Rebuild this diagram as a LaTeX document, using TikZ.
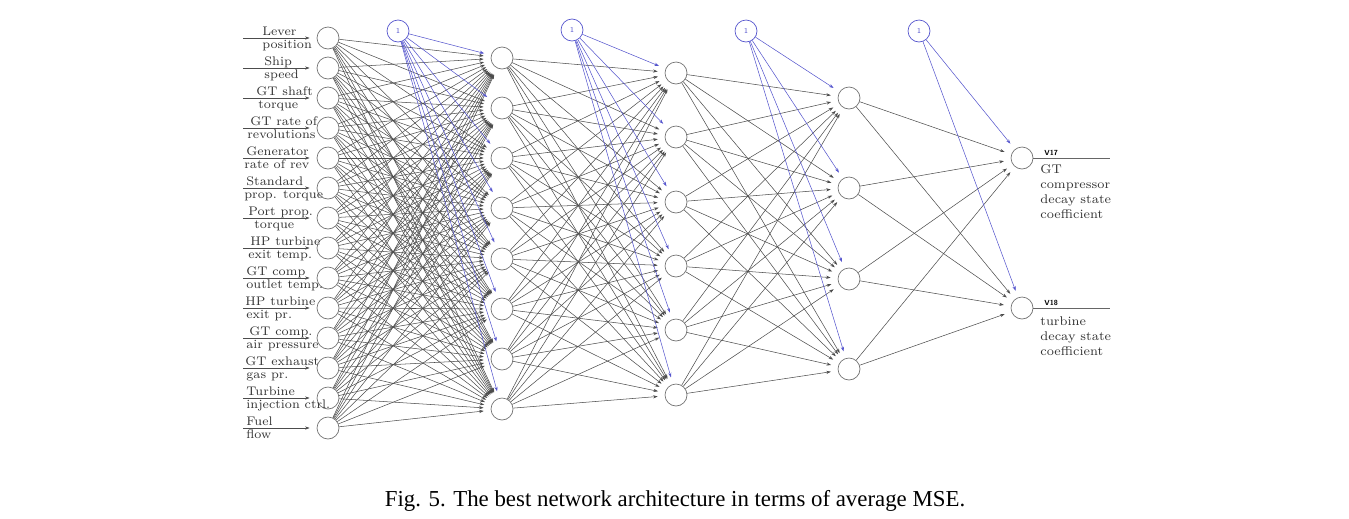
\documentclass[tikz,border=0pt]{standalone}
\usepackage{fontspec}
\newfontfamily\capfont{Liberation Serif}
\usetikzlibrary{arrows.meta}
\definecolor{biasblue}{RGB}{85,85,205}
\tikzset{
  neuron/.style={circle, draw=black!55, line width=0.4pt, minimum size=0.44cm, inner sep=0pt},
  biasnode/.style={circle, draw=biasblue, line width=0.4pt, minimum size=0.44cm, inner sep=0pt,
    text=biasblue, font=\fontsize{4.2}{5}\sffamily},
  wire/.style={draw=black!70, line width=0.3pt, -{Stealth[length=2.6pt,width=1.8pt]}, shorten >=4pt},
  biaswire/.style={draw=biasblue, line width=0.3pt, -{Stealth[length=2.6pt,width=1.8pt]}, shorten >=4pt},
  inlabel/.style={anchor=base west, inner sep=0pt, text=black!80, font=\fontsize{7.1}{8}\selectfont},
  outlabel/.style={anchor=north west, inner sep=0pt, align=left, text=black!80, font=\fontsize{7.2}{8.6}\selectfont},
  vlabel/.style={anchor=base west, inner sep=0pt, font=\fontsize{4.2}{5}\sffamily\bfseries},
}
\begin{document}
\begin{tikzpicture}[x=0.02cm, y=-0.02cm]
  \useasboundingbox (0,0) rectangle (1349,518);

  % Entradas
  \foreach \i/\xa/\ta/\xb/\tb in {
      1/262/Lever/262/position,
      2/264/Ship/264/speed,
      3/256/GT shaft/258/torque,
      4/250/GT rate of/247/revolutions,
      5/246/Generator/244/rate of rev,
      6/246/Standard/244/prop. torque,
      7/248/Port prop./254/torque,
      8/250/HP turbine/248/exit temp.,
      9/246/GT comp/246/outlet temp.,
      10/245/HP turbine/246/exit pr.,
      11/249/GT comp./246/air pressure,
      12/245/GT exhaust/246/gas pr.,
      13/246/Turbine/246/injection ctrl.,
      14/246/Fuel/246/flow} {
    \node[neuron] (i\i) at (328,{8+30*\i}) {};
    \coordinate (s\i) at (243,{8+30*\i});
    \draw[wire] (s\i) -- (i\i);
    \node[inlabel] (ta\i) at (\xa,{8+30*\i-3}) {\ta};
    \node[inlabel] (tb\i) at (\xb,{8+30*\i+10.5}) {\tb};
  }

  % Capas ocultas
  \foreach \k/\yy in {1/58,2/108,3/158,4/208,5/259,6/309,7/359,8/409}
    \node[neuron] (a\k) at (502,\yy) {};
  \foreach \k/\yy in {1/73,2/137,3/202,4/266,5/330,6/395}
    \node[neuron] (b\k) at (676,\yy) {};
  \foreach \k/\yy in {1/98,2/188,3/279,4/369}
    \node[neuron] (c\k) at (849,\yy) {};

  % Salidas
  \node[neuron] (o1) at (1022,158) {};
  \node[neuron] (o2) at (1022,308) {};

  % Sesgos
  \node[biasnode] (bA) at (398,31) {1};
  \node[biasnode] (bB) at (572,30) {1};
  \node[biasnode] (bC) at (746,31) {1};
  \node[biasnode] (bD) at (919,31) {1};

  % Conexiones
  \foreach \i in {1,...,14}
    \foreach \k in {1,...,8}
      \draw[wire] (i\i) -- (a\k);
  \foreach \i in {1,...,8}
    \foreach \k in {1,...,6}
      \draw[wire] (a\i) -- (b\k);
  \foreach \i in {1,...,6}
    \foreach \k in {1,...,4}
      \draw[wire] (b\i) -- (c\k);
  \foreach \i in {1,...,4}
    \foreach \k in {1,2}
      \draw[wire] (c\i) -- (o\k);

  % Conexiones de sesgo
  \foreach \k in {1,...,8} \draw[biaswire] (bA) -- (a\k);
  \foreach \k in {1,...,6} \draw[biaswire] (bB) -- (b\k);
  \foreach \k in {1,...,4} \draw[biaswire] (bC) -- (c\k);
  \foreach \k in {1,2} \draw[biaswire] (bD) -- (o\k);

  % Lineas de salida
  \coordinate (e1) at (1110,158);
  \coordinate (e2) at (1110,308);
  \draw[black!60, line width=0.4pt] (o1) -- (e1);
  \draw[black!60, line width=0.4pt] (o2) -- (e2);
  \node[vlabel] (v1) at (1044,155.5) {V17};
  \node[vlabel] (v2) at (1044,305.5) {V18};
  \node[outlabel] (d1) at (1040,164) {GT\\compressor\\decay state\\coefficient};
  \node[outlabel] (d2) at (1040,316) {turbine\\decay state\\coefficient};

  % Leyenda
  \node[font=\capfont\fontsize{13}{15}\selectfont] (cap) at (675,501)
    {Fig. 5. The best network architecture in terms of average MSE.};
\end{tikzpicture}
\end{document}
